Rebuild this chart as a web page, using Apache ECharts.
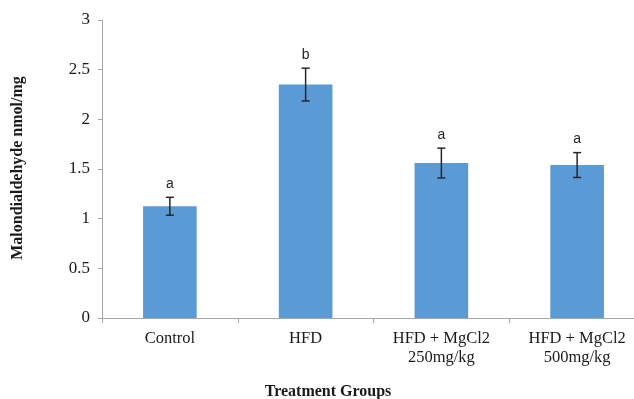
<!DOCTYPE html>
<html>
<head>
<meta charset="utf-8">
<script src="https://cdn.jsdelivr.net/npm/echarts@6/dist/echarts.min.js"></script>
<style>
  html, body { margin: 0; padding: 0; background: #fff; overflow: hidden; }
  /* the plot area runs a little past the right edge of the view */
  #chart { width: 645px; height: 399px; }
</style>
</head>
<body>
<div id="chart"></div>
<script>
// Malondialdehyde level per treatment group (mean ± error)
const categories = ['Control', 'HFD', 'HFD + MgCl2\n250mg/kg', 'HFD + MgCl2\n500mg/kg'];
const meanValues = [1.125, 2.35, 1.56, 1.54];
const errorValues = [0.09, 0.165, 0.15, 0.125];
const groupLetters = ['a', 'b', 'a', 'a'];
const yTicks = { min: 0, max: 3, interval: 0.5 };

const chart = echarts.init(document.getElementById('chart'), null, { renderer: 'canvas' });

const serif = '"Liberation Serif", "Times New Roman", serif';
const sans = '"Liberation Sans", Arial, sans-serif';

const errorData = meanValues.map((m, i) => [i, m - errorValues[i], m + errorValues[i]]);

chart.setOption({
  animation: false,
  backgroundColor: '#ffffff',
  grid: { left: 102, top: 20, right: 0, bottom: 81, containLabel: false },
  xAxis: {
    type: 'category',
    data: categories,
    axisLine: { lineStyle: { color: '#a6a6a6', width: 1 } },
    axisTick: { show: true, length: 5, lineStyle: { color: '#a6a6a6' } },
    axisLabel: {
      color: '#1a1a1a', fontFamily: serif, fontSize: 16.5, margin: 11, lineHeight: 19, interval: 0
    }
  },
  yAxis: {
    type: 'value',
    min: yTicks.min, max: yTicks.max, interval: yTicks.interval,
    axisLine: { show: true, lineStyle: { color: '#a6a6a6', width: 1 } },
    axisTick: { show: true, length: 4, lineStyle: { color: '#a6a6a6' } },
    splitLine: { show: false },
    axisLabel: { color: '#1a1a1a', fontFamily: serif, fontSize: 17, margin: 12 }
  },
  graphic: [
    {
      type: 'text',
      x: 18, y: 168, rotation: Math.PI / 2,
      style: {
        text: 'Malondialdehyde nmol/mg', fill: '#1a1a1a',
        font: 'bold 16px ' + serif, textAlign: 'center', textVerticalAlign: 'middle'
      }
    },
    {
      type: 'text',
      x: 328, y: 392,
      style: {
        text: 'Treatment Groups', fill: '#1a1a1a',
        font: 'bold 16px ' + serif, textAlign: 'center', textVerticalAlign: 'middle'
      }
    }
  ],
  series: [
    {
      type: 'bar',
      data: meanValues,
      barWidth: '39.5%',
      itemStyle: { color: '#5b9bd5' }
    },
    {
      type: 'custom',
      data: errorData,
      z: 10,
      renderItem: function (params, api) {
        const x = api.coord([api.value(0), 0])[0];
        const lo = api.coord([api.value(0), api.value(1)])[1];
        const hi = api.coord([api.value(0), api.value(2)])[1];
        const cap = 4;
        const stroke = { stroke: '#262626', lineWidth: 1.5 };
        return {
          type: 'group',
          children: [
            { type: 'line', shape: { x1: x, y1: hi, x2: x, y2: lo }, style: stroke },
            { type: 'line', shape: { x1: x - cap, y1: hi, x2: x + cap, y2: hi }, style: stroke },
            { type: 'line', shape: { x1: x - cap, y1: lo, x2: x + cap, y2: lo }, style: stroke },
            {
              type: 'text',
              style: {
                text: groupLetters[params.dataIndex], x: x, y: hi - 13,
                fill: '#262626', font: '14px ' + sans,
                textAlign: 'center', textVerticalAlign: 'middle'
              }
            }
          ]
        };
      }
    }
  ]
});
</script>
</body>
</html>
